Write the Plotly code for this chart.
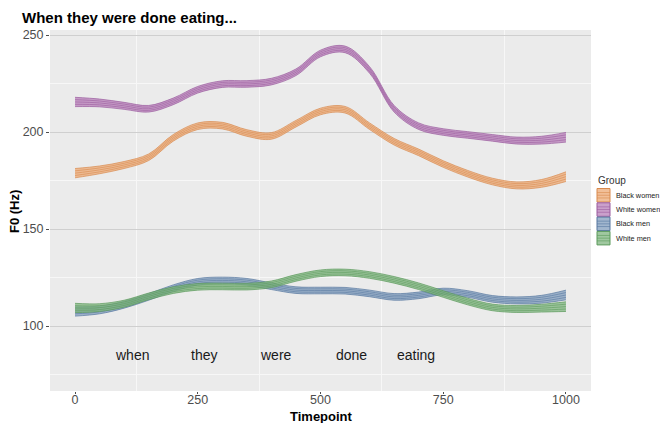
import plotly.graph_objects as go

# Timepoints (normalised) at which the smoothed F0 contours are sampled
timepoints = [0, 50, 100, 150, 200, 250, 300, 350, 400, 450, 500,
              550, 600, 650, 700, 750, 800, 850, 900, 950, 1000]

# Smoothed F0 (Hz) per group
black_women = [178.8, 180.5, 183.0, 187.0, 197.0, 203.0, 203.3, 199.5, 198.0, 204.3, 210.6,
               211.5, 203.0, 195.0, 189.5, 183.5, 178.5, 174.5, 172.5, 173.5, 177.0]
white_women = [215.5, 215.0, 213.5, 212.0, 215.8, 221.8, 224.7, 224.8, 226.0, 230.8, 240.5,
               242.6, 232.0, 212.0, 203.0, 200.0, 198.5, 197.0, 195.6, 195.8, 197.3]
black_men = [107.5, 108.3, 111.0, 115.0, 119.5, 122.8, 123.5, 122.8, 120.5, 118.5, 118.3,
             118.2, 116.8, 115.0, 115.8, 117.8, 116.5, 114.0, 113.2, 113.8, 116.0]
white_men = [109.3, 109.5, 111.5, 115.3, 118.5, 120.2, 120.4, 120.3, 121.5, 124.8, 127.2,
             127.6, 126.3, 123.8, 120.5, 116.5, 112.6, 109.6, 108.8, 109.2, 110.0]

# Half-width of the confidence band (Hz)
ci_half = [2.4, 2.0, 1.8, 1.7, 1.7, 1.7, 1.7, 1.7, 1.7, 1.7, 1.7,
           1.7, 1.7, 1.7, 1.7, 1.7, 1.7, 1.7, 1.8, 2.0, 2.5]

group_names = ["Black women", "White women", "Black men", "White men"]
group_values = [black_women, white_women, black_men, white_men]
line_colors = ["#D98A4E", "#9A5A9E", "#56779F", "#5A9A5A"]
fill_colors = ["rgba(236,170,118,0.75)", "rgba(184,128,186,0.75)",
               "rgba(130,158,190,0.75)", "rgba(128,182,128,0.75)"]

# Word labels along the utterance
words = ["when", "they", "were", "done", "eating"]
word_x = [116, 262, 410, 563, 695]
word_y = 85

W, H = 660, 423
M_L, M_R, M_T, M_B = 50, 69, 30, 32
PW, PH = W - M_L - M_R, H - M_T - M_B


def px_x(p):
    """Horizontal pixel position -> paper coordinate."""
    return (p - M_L) / PW


def px_y(p):
    """Vertical pixel position (from top) -> paper coordinate."""
    return 1 - (p - M_T) / PH


fig = go.Figure()

for name, vals, lc, fc in zip(group_names, group_values, line_colors, fill_colors):
    lower = [v - h for v, h in zip(vals, ci_half)]
    upper = [v + h for v, h in zip(vals, ci_half)]
    fig.add_trace(go.Scatter(x=timepoints, y=lower, mode="lines",
                             line=dict(color=lc, width=0.7, shape="spline"),
                             showlegend=False, hoverinfo="skip"))
    fig.add_trace(go.Scatter(x=timepoints, y=upper, mode="lines", name=name,
                             fill="tonexty", fillcolor=fc,
                             line=dict(color=lc, width=0.7, shape="spline"),
                             showlegend=False))
    # inner stripes of the band
    for frac in (-0.5, 0.0, 0.5):
        fig.add_trace(go.Scatter(x=timepoints,
                                 y=[v + frac * h for v, h in zip(vals, ci_half)],
                                 mode="lines",
                                 line=dict(color=lc, width=0.6, shape="spline"),
                                 showlegend=False, hoverinfo="skip"))

for w, wx in zip(words, word_x):
    fig.add_annotation(x=wx, y=word_y, text=w, showarrow=False,
                       font=dict(size=14, color="#1A1A1A"))

# Legend drawn as keys + labels to the right of the panel
fig.add_annotation(xref="paper", yref="paper", x=px_x(596), y=px_y(180),
                   xanchor="left", yanchor="middle", showarrow=False,
                   text="Group", font=dict(size=10, color="#333333"))
key_top = 188.5
key_h = 14.3
for i, (name, lc, fc) in enumerate(zip(group_names, line_colors, fill_colors)):
    y0 = key_top + i * key_h
    y1 = y0 + key_h - 0.8
    fig.add_shape(type="rect", xref="paper", yref="paper",
                  x0=px_x(597), x1=px_x(610), y0=px_y(y1), y1=px_y(y0),
                  fillcolor=fc, line=dict(color=lc, width=1))
    for f in (0.3, 0.5, 0.7):
        ym = y0 + f * (y1 - y0)
        fig.add_shape(type="line", xref="paper", yref="paper",
                      x0=px_x(597), x1=px_x(610), y0=px_y(ym), y1=px_y(ym),
                      line=dict(color=lc, width=0.6))
    fig.add_annotation(xref="paper", yref="paper", x=px_x(614), y=px_y((y0 + y1) / 2),
                       xanchor="left", yanchor="middle", showarrow=False,
                       text=name, font=dict(size=7.3, color="#222222"))

# Axis titles
fig.add_annotation(xref="paper", yref="paper", x=px_x(321), y=px_y(416),
                   xanchor="center", yanchor="middle", showarrow=False,
                   text="<b>Timepoint</b>", font=dict(size=13, color="black"))
fig.add_annotation(xref="paper", yref="paper", x=px_x(15), y=px_y(212),
                   xanchor="center", yanchor="middle", showarrow=False, textangle=-90,
                   text="<b>F0 (Hz)</b>", font=dict(size=13, color="black"))

fig.update_layout(
    width=W, height=H,
    margin=dict(l=M_L, r=M_R, t=M_T, b=M_B, autoexpand=False),
    paper_bgcolor="white",
    plot_bgcolor="#EBEBEB",
    font=dict(family="Liberation Sans, Arial, sans-serif", color="#4D4D4D"),
    title=dict(text="<b>When they were done eating...</b>", x=22 / W, xref="container",
               xanchor="left", y=1 - 18 / H, yref="container", yanchor="middle",
               font=dict(size=15, color="black")),
    showlegend=False,
)

fig.update_xaxes(
    range=[-51, 1051], showgrid=False, zeroline=False, automargin=False,
    tickvals=[0, 250, 500, 750, 1000], ticks="outside", ticklen=2,
    tickcolor="#4D4D4D", tickfont=dict(size=12.5, color="#4D4D4D"),
    ticklabelstandoff=-5,
    minor=dict(tickvals=[125, 375, 625, 875], showgrid=True,
               gridcolor="#F7F7F7", gridwidth=1),
)
fig.update_yaxes(
    range=[66.5, 252.6], showgrid=True, gridcolor="#CFCFCF", gridwidth=1,
    zeroline=False, automargin=False, tickvals=[100, 150, 200, 250],
    ticks="outside", ticklen=3,
    tickcolor="#4D4D4D", tickfont=dict(size=12.5, color="#4D4D4D"),
    minor=dict(tickvals=[75, 125, 175, 225], showgrid=True,
               gridcolor="#F7F7F7", gridwidth=1),
)

fig.write_html("out.html")
